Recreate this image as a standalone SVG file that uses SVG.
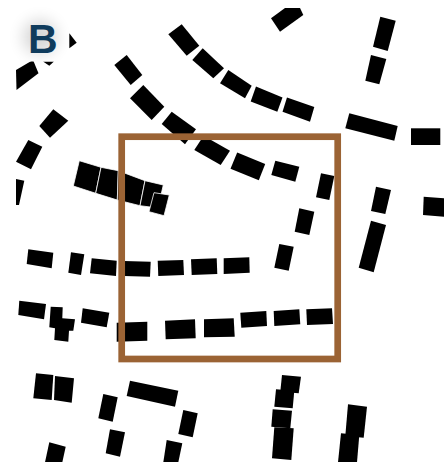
<svg xmlns="http://www.w3.org/2000/svg" width="444" height="464" viewBox="0 0 444 464">
<style>
.b{fill:#000}
.c{fill:#000;stroke:#fff;stroke-width:0.8}
.frame{fill:none;stroke:#9b6334;stroke-width:6.7}
.lbl{font-family:"Liberation Sans",Arial,sans-serif;font-weight:bold;font-size:41px;fill:#0f3b5c}
</style>
<defs>
<clipPath id="map"><rect x="16" y="8" width="428" height="454"/></clipPath>
<filter id="glow" x="-1" y="-1" width="3" height="3"><feGaussianBlur stdDeviation="8"/></filter>
</defs>
<rect width="444" height="464" fill="#fff"/>
<g id="buildings" clip-path="url(#map)">
<polygon class="b" points="271,18.3 285,8 300,8 303.3,15 280,31.7"/>
<polygon class="b" points="380.3,16.7 395.7,20.7 387.7,51 373,46.7"/>
<polygon class="b" points="371,55 386.3,59 379.3,84.3 365.3,80.7"/>
<polygon class="b" points="168.3,34.3 181.7,24.3 199.3,45.7 186.7,55.7"/>
<polygon class="b" points="192.3,60 202.7,48.3 224,68.3 213.3,78.3"/>
<polygon class="b" points="220,83.3 228.3,70 251.7,85.7 245,98.3"/>
<polygon class="b" points="250.7,101.5 256,86.5 282.5,97.5 277.3,111.7"/>
<polygon class="b" points="282.5,111.7 287,97.5 314.3,107 310,121.7"/>
<polygon class="b" points="349.3,113.3 397.7,126 394.3,140.7 345.3,128.3"/>
<polygon class="b" points="411,128.3 440.3,128.3 440.3,145 411,145"/>
<polygon class="b" points="16,70 33,60 38.5,73.3 16.5,90"/>
<polygon class="b" points="43,61.5 54,61.5 49.3,65.7"/>
<polygon class="b" points="69.3,33.3 76.7,42.7 69.3,48.3"/>
<polygon class="b" points="114.3,65 126.7,55 142.3,75 130.7,85"/>
<polygon class="b" points="130,98.3 143.3,85 164.3,106.7 151.7,120"/>
<polygon class="b" points="161.7,124 171.7,111.7 196,129.3 185,144.3"/>
<polygon class="b" points="194.3,150 203.6,135.7 230,150.7 220.7,165"/>
<polygon class="b" points="237.2,152.5 265.2,164 258.8,180.3 230.5,168.8"/>
<polygon class="b" points="275.3,160.7 299.3,166.7 295.3,181.7 271.3,175"/>
<polygon class="b" points="321,173.3 334.3,176 329.3,200 316,197.3"/>
<polygon class="b" points="299.3,208.3 314.3,211.7 309.3,235 294.7,231.7"/>
<polygon class="b" points="279.3,244 293.7,246.7 288.7,270.7 274.3,267.7"/>
<polygon class="b" points="376,186.7 391,190 385.3,214 371,211"/>
<polygon class="b" points="371,220.7 386,225 373.7,272.3 358.7,267.7"/>
<polygon class="b" points="423.7,196.7 444,198.3 444,216.7 423,215"/>
<polygon class="b" points="39.3,126 53.3,109.3 68.3,120.7 50,137.7"/>
<polygon class="b" points="16,161.7 28.3,140 42.3,146.7 31,169.3"/>
<polygon class="b" points="16,179 24.3,180.7 19,205 16,205"/>
<polygon class="c" points="79.3,160.7 101,167.3 95.7,193.3 73.3,186"/>
<polygon class="c" points="101,167.3 118.3,170.7 117.3,200 95.7,193.3"/>
<polygon class="c" points="118.3,170.7 145,180.7 140,205.7 117.3,200"/>
<polygon class="c" points="145,180.7 163.3,185 158,208 140,205.7"/>
<polygon class="c" points="154,192.7 169.3,195 164,215.7 149,211.7"/>
<polygon class="b" points="28.3,249.3 53.3,252.7 51.7,268.3 26.7,264"/>
<polygon class="b" points="71,252.3 84.3,254.3 81,275 68.3,272.7"/>
<polygon class="b" points="91.7,258.3 116.7,260.7 116,276 90,273.3"/>
<polygon class="b" points="124,261 150.7,261.7 150,276.7 124,276"/>
<polygon class="b" points="157.7,260.7 183.3,260 184,275 158.3,276"/>
<polygon class="b" points="191,259.3 216.7,258.3 217.3,274 191.7,275"/>
<polygon class="b" points="223.7,258.3 249.3,257.3 249.7,272.7 223.7,274"/>
<polygon class="b" points="19.3,300.7 46,304 44,319.3 18.3,315"/>
<polygon class="b" points="50.7,306.7 62.7,307.3 62.3,318.3 75,319.3 73.3,330.7 69,330.7 68.3,341.7 54.3,340 55,328.3 49.3,327.3"/>
<polygon class="b" points="82.7,308.3 109.3,312.7 106.7,327.3 81,322.7"/>
<polygon class="b" points="116.7,322.7 147.3,321.7 147.3,340.7 116.7,341.7"/>
<polygon class="b" points="165,320.7 195,319.3 195.7,338.3 165.7,339.3"/>
<polygon class="b" points="204,319.3 233.7,318.3 234.7,336.7 204,337.3"/>
<polygon class="b" points="240.3,312.7 266.3,311 267,326 241.3,327.7"/>
<polygon class="b" points="273.7,311 299.3,309.3 300.3,324.3 274.3,326"/>
<polygon class="b" points="306.3,309.3 332,308.3 333,324 307,325"/>
<polygon class="b" points="36,373.3 53.3,375 51.7,400 33.3,398.3"/>
<polygon class="b" points="55,376 74,378.3 71.7,402.7 54,400"/>
<polygon class="b" points="130,380.7 178.3,390.7 175,406.7 126.7,396"/>
<polygon class="b" points="103.3,394 117.7,397.3 112.7,421.7 98.3,418.3"/>
<polygon class="b" points="183.3,410 197.7,413.3 192.7,437.3 178.3,434"/>
<polygon class="b" points="110,429.3 125,432.3 120,456.7 105.7,453.3"/>
<polygon class="b" points="49.3,442.3 65.7,446.7 62.3,462.3 45,462.3"/>
<polygon class="b" points="166.7,440 182.3,443.3 178.3,462.3 163.3,462.3"/>
<polygon class="b" points="282,375 301,376.7 298.7,393.3 280.3,391.7"/>
<polygon class="b" points="276,389.3 294.3,390.7 292.7,408.3 274.3,406.7"/>
<polygon class="b" points="272.7,409.3 292,410.7 290.3,428.3 271.3,426.7"/>
<polygon class="b" points="274.3,427.3 293.7,428.3 291.3,460 272,458.3"/>
<polygon class="b" points="348,404.3 367,406.7 363.7,437.7 345.3,436"/>
<polygon class="b" points="341,433.3 359.3,435 357,462.3 338,462.3"/>
</g>
<rect id="frame" class="frame" x="121.7" y="136.7" width="216" height="222.3"/>
<g id="label">
<rect x="0" y="0" width="69" height="61.5" fill="#fff"/>
<circle cx="40" cy="37" r="17" fill="#000" opacity="0.16" filter="url(#glow)"/>
<text class="lbl" x="28" y="53">B</text>
</g>
</svg>
